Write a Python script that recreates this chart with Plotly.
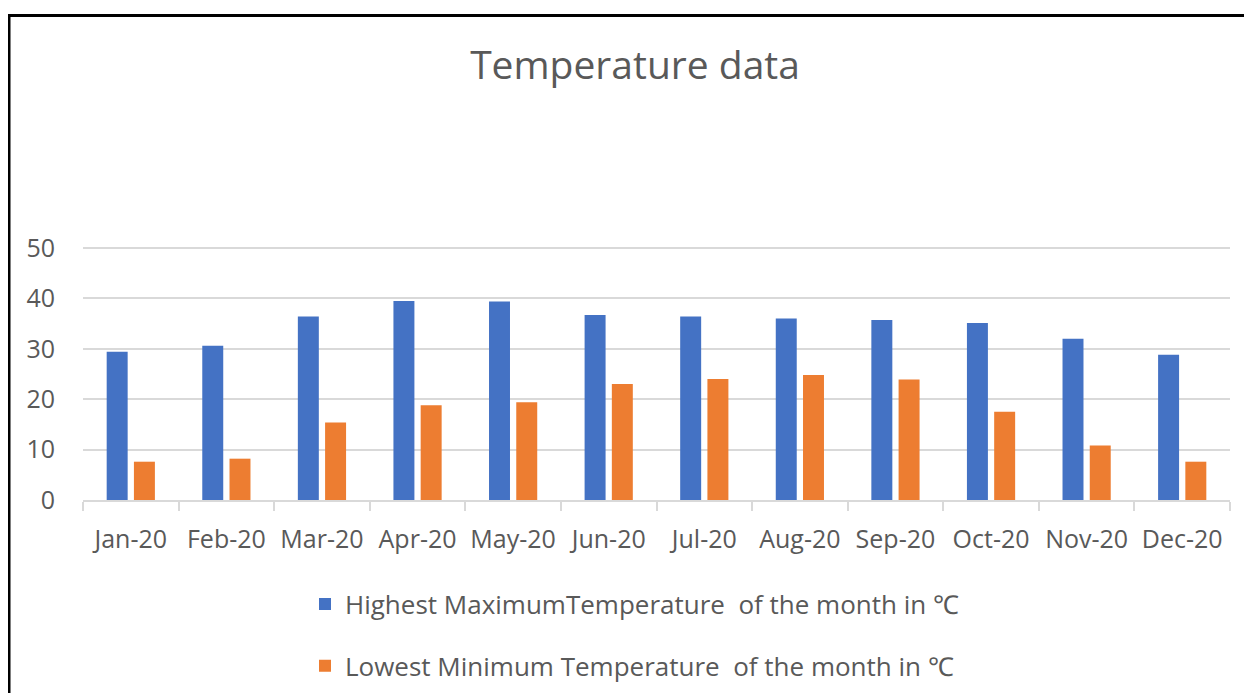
import plotly.graph_objects as go

months = ["Jan-20", "Feb-20", "Mar-20", "Apr-20", "May-20", "Jun-20",
          "Jul-20", "Aug-20", "Sep-20", "Oct-20", "Nov-20", "Dec-20"]
highest_max = [29.4, 30.6, 36.4, 39.5, 39.4, 36.7, 36.4, 36.0, 35.7, 35.1, 32.0, 28.8]
lowest_min = [7.6, 8.2, 15.4, 18.8, 19.4, 23.0, 24.0, 24.8, 23.9, 17.5, 10.8, 7.6]
y_ticks = [0, 10, 20, 30, 40, 50]

name_max = "Highest MaximumTemperature \u00a0of the month in \u2103"
name_min = "Lowest Minimum Temperature \u00a0of the month in \u2103"

# the page body adds an 8px margin; positions below are in page pixels
OFF = 8
W, H = 1252, 693
ML = 83 - OFF
MR = W - (1230 - OFF)
MT = 243 - OFF
MB = H - (505 - OFF)
PW, PH = W - ML - MR, H - MT - MB

def px_x(px):  # page pixel -> paper
    return (px - OFF - ML) / PW

def px_y(py):
    return (H - MB - (py - OFF)) / PH

FONT = "Open Sans"
TXT = "#595959"

fig = go.Figure()
fig.add_trace(go.Bar(x=months, y=highest_max, name=name_max,
                     marker=dict(color="#4472C4", line=dict(width=0)),
                     legend="legend"))
fig.add_trace(go.Bar(x=months, y=lowest_min, name=name_min,
                     marker=dict(color="#ED7D31", line=dict(width=0)),
                     legend="legend2"))

legend_common = dict(font=dict(family=FONT, size=26, color=TXT),
                     bgcolor="rgba(0,0,0,0)", xanchor="left", yanchor="middle",
                     itemclick=False, itemdoubleclick=False)

fig.update_layout(
    width=W, height=H, autosize=False,
    margin=dict(l=ML, r=MR, t=MT, b=MB, pad=0),
    paper_bgcolor="white", plot_bgcolor="white",
    barmode="group", bargap=0.43, bargroupgap=0.23,
    font=dict(family=FONT, color=TXT),
    title=dict(text="Temperature data", x=(635 - OFF) / W, xref="container",
               xanchor="center", y=1 - (65 - OFF) / H, yref="container",
               yanchor="middle",
               font=dict(family=FONT, size=39, color=TXT)),
    legend=dict(x=px_x(305), y=px_y(611), **legend_common),
    legend2=dict(x=px_x(305), y=px_y(674), **legend_common),
    showlegend=True,
    xaxis=dict(type="category", showgrid=False, showline=True,
               linecolor="#D9D9D9", linewidth=1.5,
               ticks="outside", tickson="boundaries", ticklen=9,
               tickcolor="#D9D9D9", tickwidth=1.5,
               tickfont=dict(family=FONT, size=25, color=TXT),
               ticklabelstandoff=16, fixedrange=True),
    yaxis=dict(range=[0, 51], tickvals=y_ticks, showgrid=True,
               gridcolor="#D9D9D9", gridwidth=1.5, zeroline=False,
               showline=False, ticks="",
               tickfont=dict(family=FONT, size=25, color=TXT),
               ticklabelstandoff=27, fixedrange=True),
    shapes=[
        dict(type="line", xref="paper", yref="paper",
             x0=px_x(8), x1=px_x(1270), y0=px_y(11), y1=px_y(11),
             line=dict(color="black", width=3)),
        dict(type="line", xref="paper", yref="paper",
             x0=px_x(9), x1=px_x(9), y0=px_y(10), y1=px_y(710),
             line=dict(color="black", width=3)),
    ],
)

fig.write_html("out.html", config={"displayModeBar": False})
